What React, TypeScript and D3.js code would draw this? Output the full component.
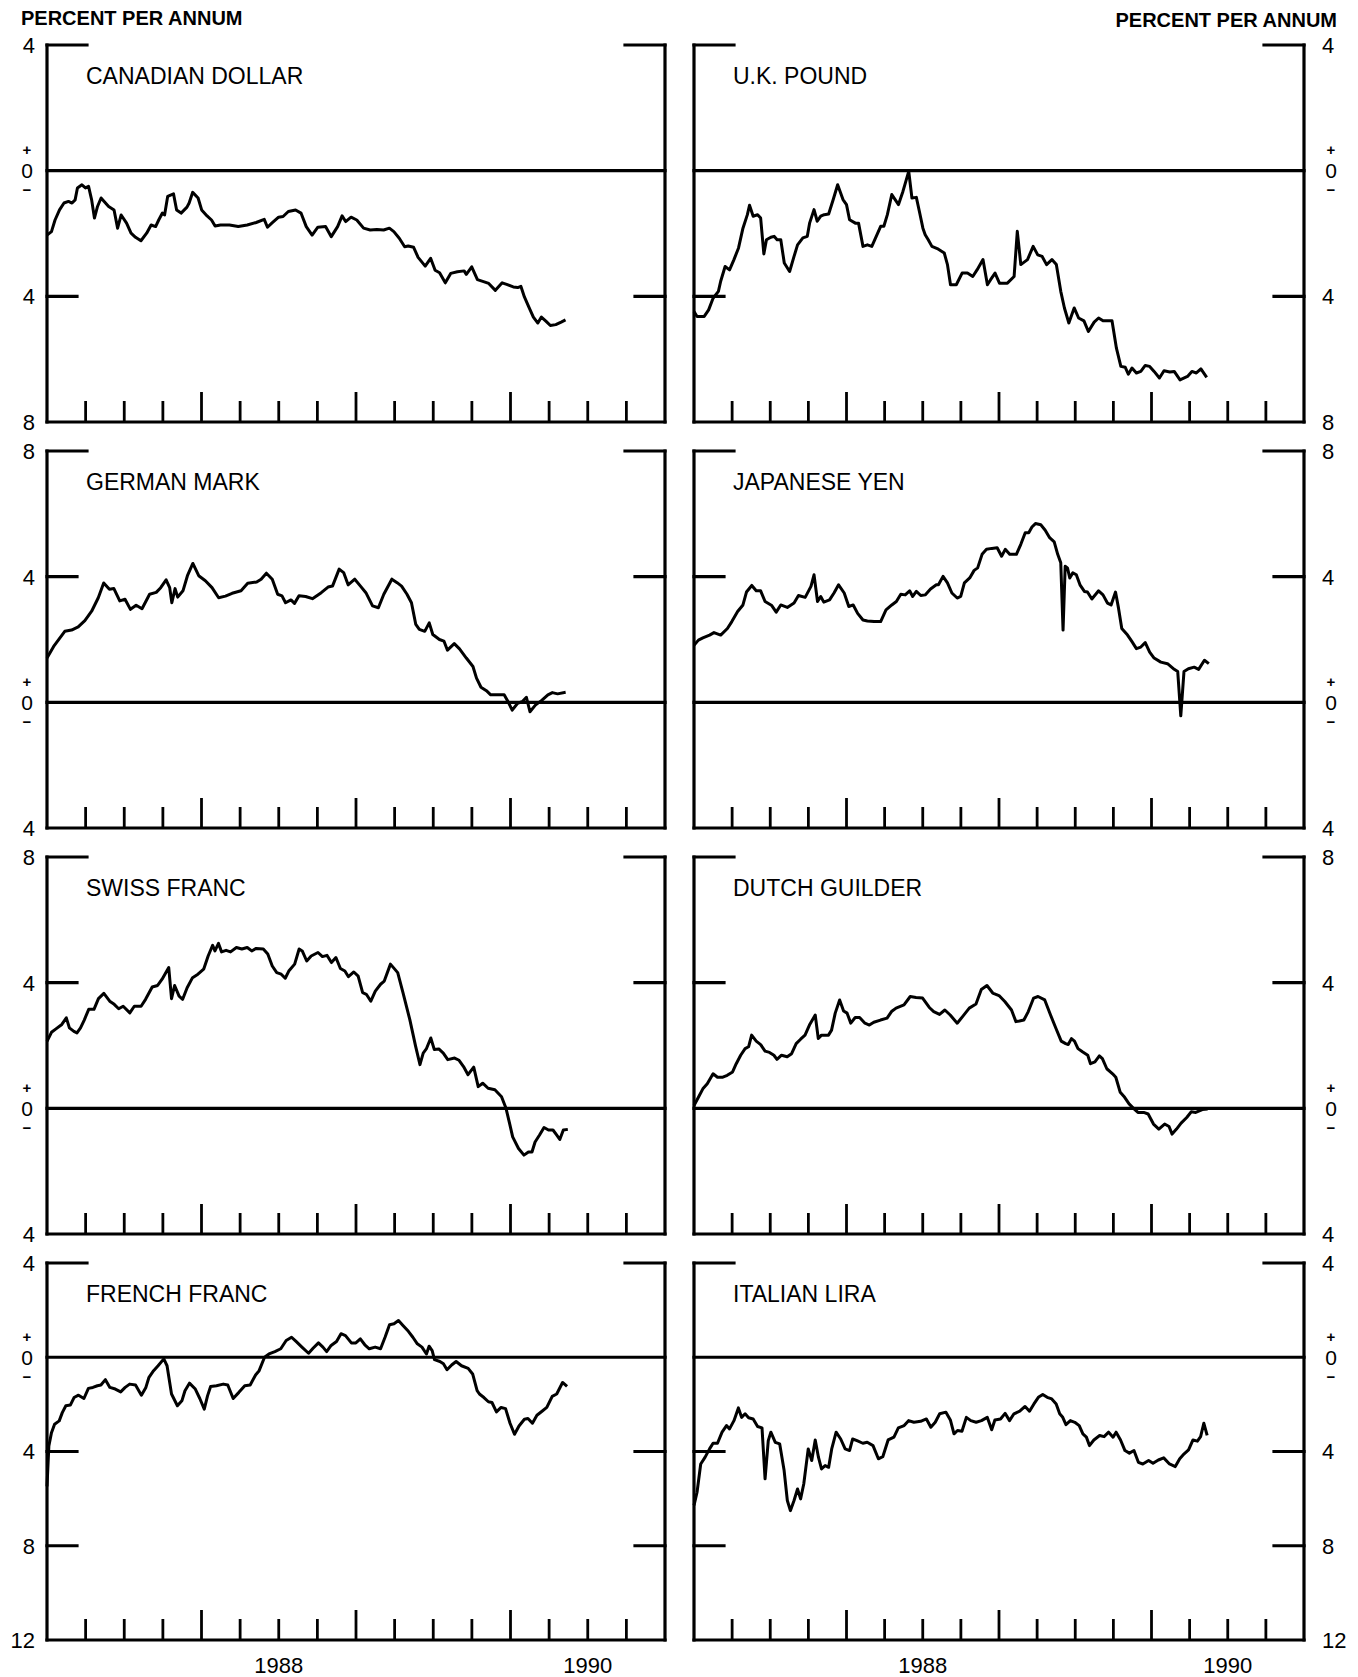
import * as d3 from "d3";

// decimal year, percent per annum
const canadianDollar: [number, number][] = [
  [1987.0, -2.05], [1987.029, -1.94], [1987.052, -1.57], [1987.081, -1.25], [1987.11, -1.03], [1987.139, -0.98],
  [1987.162, -1.03], [1987.182, -0.93], [1987.197, -0.55], [1987.226, -0.45], [1987.249, -0.55], [1987.269, -0.5],
  [1987.289, -0.93], [1987.307, -1.51], [1987.327, -1.14], [1987.35, -0.87], [1987.37, -0.98], [1987.399, -1.14],
  [1987.434, -1.25], [1987.457, -1.83], [1987.48, -1.41], [1987.515, -1.67], [1987.544, -1.99], [1987.573, -2.12],
  [1987.608, -2.23], [1987.645, -1.99], [1987.674, -1.73], [1987.703, -1.78], [1987.723, -1.57], [1987.747, -1.35],
  [1987.761, -1.41], [1987.781, -0.82], [1987.819, -0.74], [1987.839, -1.25], [1987.868, -1.35], [1987.906, -1.16],
  [1987.92, -1.03], [1987.943, -0.69], [1987.978, -0.87], [1988.001, -1.25], [1988.036, -1.44], [1988.065, -1.57],
  [1988.088, -1.76], [1988.123, -1.73], [1988.181, -1.73], [1988.238, -1.78], [1988.296, -1.73], [1988.354, -1.65],
  [1988.406, -1.55], [1988.427, -1.8], [1988.455, -1.67], [1988.499, -1.48], [1988.528, -1.46], [1988.562, -1.3],
  [1988.609, -1.25], [1988.644, -1.35], [1988.678, -1.78], [1988.716, -2.05], [1988.753, -1.8], [1988.803, -1.78],
  [1988.84, -2.1], [1988.881, -1.78], [1988.91, -1.44], [1988.933, -1.62], [1988.968, -1.48], [1989.005, -1.57],
  [1989.049, -1.83], [1989.092, -1.89], [1989.135, -1.87], [1989.179, -1.89], [1989.216, -1.83], [1989.245, -1.94],
  [1989.28, -2.15], [1989.315, -2.42], [1989.338, -2.4], [1989.373, -2.44], [1989.402, -2.76], [1989.448, -3.04],
  [1989.483, -2.79], [1989.512, -3.17], [1989.541, -3.25], [1989.578, -3.57], [1989.613, -3.27], [1989.656, -3.22],
  [1989.7, -3.19], [1989.714, -3.3], [1989.749, -3.06], [1989.786, -3.47], [1989.83, -3.54], [1989.859, -3.59],
  [1989.902, -3.81], [1989.946, -3.57], [1989.975, -3.62], [1990.018, -3.7], [1990.047, -3.72], [1990.067, -3.68],
  [1990.09, -4.02], [1990.119, -4.34], [1990.148, -4.66], [1990.177, -4.85], [1990.2, -4.66], [1990.229, -4.79],
  [1990.258, -4.93], [1990.293, -4.9], [1990.328, -4.82], [1990.356, -4.75],
];

const ukPound: [number, number][] = [
  [1987.0, -4.48], [1987.02, -4.64], [1987.067, -4.64], [1987.096, -4.43], [1987.125, -4.06], [1987.16, -3.84],
  [1987.175, -3.52], [1987.204, -3.05], [1987.233, -3.16], [1987.262, -2.83], [1987.292, -2.46], [1987.321, -1.83],
  [1987.35, -1.4], [1987.364, -1.1], [1987.388, -1.45], [1987.417, -1.4], [1987.437, -1.51], [1987.458, -2.65],
  [1987.475, -2.2], [1987.504, -2.12], [1987.525, -2.09], [1987.545, -2.2], [1987.569, -2.2], [1987.592, -2.94],
  [1987.627, -3.21], [1987.656, -2.73], [1987.679, -2.36], [1987.714, -2.14], [1987.743, -2.09], [1987.758, -1.67],
  [1987.787, -1.24], [1987.808, -1.61], [1987.831, -1.45], [1987.854, -1.4], [1987.883, -1.38], [1987.913, -0.92],
  [1987.942, -0.45], [1987.977, -0.92], [1988.0, -1.08], [1988.02, -1.56], [1988.058, -1.67], [1988.079, -1.67],
  [1988.108, -2.41], [1988.137, -2.36], [1988.166, -2.41], [1988.195, -2.09], [1988.224, -1.77], [1988.245, -1.77],
  [1988.268, -1.4], [1988.297, -0.76], [1988.341, -1.08], [1988.37, -0.66], [1988.408, -0.02], [1988.429, -0.87],
  [1988.458, -0.85], [1988.478, -1.3], [1988.501, -1.83], [1988.516, -2.04], [1988.536, -2.2], [1988.56, -2.41],
  [1988.595, -2.48], [1988.641, -2.62], [1988.662, -2.99], [1988.682, -3.63], [1988.72, -3.63], [1988.758, -3.26],
  [1988.793, -3.26], [1988.828, -3.37], [1988.857, -3.15], [1988.895, -2.83], [1988.924, -3.63], [1988.945, -3.47],
  [1988.974, -3.26], [1989.003, -3.58], [1989.055, -3.58], [1989.099, -3.37], [1989.12, -1.93], [1989.143, -2.99],
  [1989.187, -2.83], [1989.224, -2.41], [1989.254, -2.68], [1989.283, -2.73], [1989.312, -2.99], [1989.347, -2.83],
  [1989.376, -2.99], [1989.405, -3.84], [1989.429, -4.37], [1989.458, -4.85], [1989.493, -4.37], [1989.522, -4.69],
  [1989.557, -4.78], [1989.586, -5.12], [1989.624, -4.82], [1989.653, -4.69], [1989.682, -4.78], [1989.741, -4.78],
  [1989.77, -5.65], [1989.799, -6.23], [1989.828, -6.26], [1989.848, -6.48], [1989.872, -6.28], [1989.901, -6.44],
  [1989.93, -6.39], [1989.959, -6.2], [1989.988, -6.23], [1990.017, -6.39], [1990.052, -6.6], [1990.082, -6.37],
  [1990.12, -6.41], [1990.149, -6.39], [1990.187, -6.66], [1990.236, -6.55], [1990.265, -6.39], [1990.294, -6.44],
  [1990.324, -6.31], [1990.362, -6.58],
];

const germanMark: [number, number][] = [
  [1987.0, 1.41], [1987.043, 1.78], [1987.115, 2.26], [1987.159, 2.3], [1987.202, 2.4], [1987.245, 2.6],
  [1987.289, 2.9], [1987.332, 3.33], [1987.367, 3.8], [1987.404, 3.6], [1987.433, 3.62], [1987.471, 3.23],
  [1987.505, 3.28], [1987.54, 2.96], [1987.577, 3.09], [1987.615, 2.98], [1987.664, 3.44], [1987.707, 3.5],
  [1987.736, 3.65], [1987.771, 3.9], [1987.794, 3.65], [1987.808, 3.17], [1987.829, 3.62], [1987.846, 3.35],
  [1987.88, 3.55], [1987.909, 4.03], [1987.944, 4.42], [1987.982, 4.03], [1988.025, 3.87], [1988.068, 3.65],
  [1988.111, 3.33], [1988.155, 3.38], [1988.198, 3.47], [1988.256, 3.55], [1988.299, 3.79], [1988.357, 3.83],
  [1988.386, 3.92], [1988.42, 4.11], [1988.458, 3.92], [1988.493, 3.44], [1988.521, 3.39], [1988.544, 3.17],
  [1988.579, 3.26], [1988.602, 3.15], [1988.631, 3.39], [1988.674, 3.37], [1988.718, 3.3], [1988.775, 3.49],
  [1988.819, 3.67], [1988.848, 3.7], [1988.891, 4.24], [1988.92, 4.13], [1988.949, 3.74], [1988.992, 3.92],
  [1989.029, 3.7], [1989.064, 3.49], [1989.107, 3.07], [1989.145, 3.01], [1989.18, 3.44], [1989.232, 3.92],
  [1989.266, 3.81], [1989.295, 3.7], [1989.33, 3.44], [1989.359, 3.17], [1989.387, 2.48], [1989.41, 2.32],
  [1989.445, 2.26], [1989.474, 2.53], [1989.497, 2.16], [1989.54, 2.0], [1989.569, 1.95], [1989.592, 1.66],
  [1989.636, 1.87], [1989.67, 1.7], [1989.714, 1.41], [1989.757, 1.14], [1989.78, 0.77], [1989.809, 0.48],
  [1989.844, 0.37], [1989.872, 0.24], [1989.916, 0.24], [1989.959, 0.24], [1989.979, 0.07], [1990.011, -0.25],
  [1990.046, -0.03], [1990.075, 0.02], [1990.103, 0.16], [1990.126, -0.3], [1990.161, -0.09], [1990.204, 0.07],
  [1990.242, 0.24], [1990.271, 0.31], [1990.305, 0.27], [1990.357, 0.32],
];

const japaneseYen: [number, number][] = [
  [1987.0, 1.82], [1987.029, 1.98], [1987.058, 2.05], [1987.102, 2.14], [1987.131, 2.22], [1987.175, 2.14],
  [1987.219, 2.35], [1987.248, 2.57], [1987.286, 2.89], [1987.321, 3.1], [1987.344, 3.51], [1987.379, 3.72],
  [1987.408, 3.55], [1987.437, 3.55], [1987.466, 3.21], [1987.51, 3.08], [1987.539, 2.87], [1987.569, 3.1],
  [1987.612, 3.02], [1987.656, 3.16], [1987.685, 3.4], [1987.729, 3.34], [1987.767, 3.69], [1987.787, 4.06],
  [1987.81, 3.21], [1987.831, 3.37], [1987.851, 3.19], [1987.889, 3.26], [1987.918, 3.48], [1987.948, 3.74],
  [1987.985, 3.48], [1988.015, 3.05], [1988.044, 3.1], [1988.073, 2.83], [1988.108, 2.62], [1988.137, 2.59],
  [1988.181, 2.57], [1988.224, 2.57], [1988.259, 2.94], [1988.297, 3.1], [1988.327, 3.21], [1988.356, 3.44],
  [1988.385, 3.42], [1988.414, 3.55], [1988.434, 3.37], [1988.458, 3.53], [1988.487, 3.4], [1988.516, 3.42],
  [1988.551, 3.61], [1988.589, 3.74], [1988.603, 3.74], [1988.633, 4.01], [1988.662, 3.8], [1988.691, 3.48],
  [1988.726, 3.32], [1988.749, 3.37], [1988.773, 3.8], [1988.808, 3.96], [1988.837, 4.2], [1988.86, 4.28],
  [1988.889, 4.71], [1988.918, 4.87], [1988.953, 4.9], [1988.988, 4.92], [1989.017, 4.65], [1989.041, 4.87],
  [1989.07, 4.71], [1989.114, 4.71], [1989.143, 5.03], [1989.172, 5.4], [1989.195, 5.4], [1989.216, 5.58],
  [1989.239, 5.69], [1989.274, 5.65], [1989.303, 5.48], [1989.332, 5.24], [1989.362, 5.11], [1989.385, 4.71],
  [1989.405, 4.44], [1989.42, 2.3], [1989.434, 4.33], [1989.449, 4.28], [1989.464, 3.96], [1989.484, 4.12],
  [1989.507, 4.06], [1989.531, 3.74], [1989.56, 3.53], [1989.58, 3.51], [1989.609, 3.29], [1989.653, 3.55],
  [1989.682, 3.42], [1989.711, 3.16], [1989.735, 3.1], [1989.764, 3.51], [1989.784, 2.99], [1989.805, 2.35],
  [1989.843, 2.14], [1989.872, 1.93], [1989.901, 1.71], [1989.93, 1.76], [1989.959, 1.9], [1989.988, 1.6],
  [1990.017, 1.41], [1990.061, 1.28], [1990.105, 1.23], [1990.149, 1.05], [1990.172, 0.98], [1990.192, -0.43],
  [1990.213, 0.98], [1990.242, 1.07], [1990.28, 1.12], [1990.309, 1.05], [1990.347, 1.34], [1990.376, 1.23],
];

const swissFranc: [number, number][] = [
  [1987.0, 2.13], [1987.029, 2.42], [1987.058, 2.53], [1987.096, 2.67], [1987.125, 2.88], [1987.145, 2.56],
  [1987.174, 2.45], [1987.194, 2.4], [1987.217, 2.56], [1987.241, 2.81], [1987.27, 3.15], [1987.304, 3.15],
  [1987.333, 3.49], [1987.368, 3.66], [1987.406, 3.41], [1987.435, 3.31], [1987.464, 3.17], [1987.493, 3.25],
  [1987.536, 3.04], [1987.565, 3.25], [1987.609, 3.25], [1987.638, 3.47], [1987.681, 3.86], [1987.716, 3.91],
  [1987.745, 4.11], [1987.788, 4.48], [1987.806, 3.49], [1987.826, 3.91], [1987.855, 3.57], [1987.878, 3.47],
  [1987.907, 3.84], [1987.942, 4.16], [1987.977, 4.27], [1988.014, 4.43], [1988.043, 4.85], [1988.072, 5.19],
  [1988.087, 5.01], [1988.11, 5.25], [1988.13, 4.98], [1988.159, 5.03], [1988.188, 4.98], [1988.226, 5.12],
  [1988.261, 5.07], [1988.296, 5.12], [1988.325, 5.01], [1988.354, 5.09], [1988.4, 5.07], [1988.429, 4.91],
  [1988.458, 4.53], [1988.487, 4.32], [1988.516, 4.27], [1988.542, 4.14], [1988.565, 4.37], [1988.603, 4.59],
  [1988.632, 5.07], [1988.652, 5.01], [1988.681, 4.69], [1988.71, 4.85], [1988.754, 4.96], [1988.783, 4.83],
  [1988.812, 4.87], [1988.841, 4.64], [1988.87, 4.8], [1988.899, 4.45], [1988.928, 4.37], [1988.951, 4.19],
  [1988.986, 4.34], [1989.014, 4.21], [1989.043, 3.68], [1989.067, 3.63], [1989.096, 3.41], [1989.125, 3.73],
  [1989.159, 3.95], [1989.183, 4.05], [1989.223, 4.59], [1989.27, 4.32], [1989.304, 3.68], [1989.348, 2.83],
  [1989.386, 1.97], [1989.414, 1.39], [1989.435, 1.76], [1989.455, 1.89], [1989.484, 2.24], [1989.507, 1.87],
  [1989.536, 1.89], [1989.565, 1.76], [1989.594, 1.55], [1989.638, 1.6], [1989.667, 1.53], [1989.696, 1.33],
  [1989.725, 1.07], [1989.762, 1.31], [1989.791, 0.69], [1989.82, 0.8], [1989.855, 0.64], [1989.899, 0.59],
  [1989.942, 0.37], [1989.971, 0.0], [1989.994, -0.48], [1990.014, -0.91], [1990.052, -1.28], [1990.087, -1.49],
  [1990.116, -1.39], [1990.139, -1.39], [1990.159, -1.07], [1990.188, -0.85], [1990.217, -0.61], [1990.246, -0.69],
  [1990.275, -0.69], [1990.296, -0.83], [1990.319, -0.99], [1990.342, -0.69], [1990.371, -0.67],
];

const dutchGuilder: [number, number][] = [
  [1987.0, 0.09], [1987.029, 0.35], [1987.058, 0.62], [1987.087, 0.78], [1987.125, 1.1], [1987.154, 0.99],
  [1987.189, 0.99], [1987.218, 1.05], [1987.253, 1.16], [1987.277, 1.42], [1987.306, 1.69], [1987.335, 1.9],
  [1987.358, 1.96], [1987.378, 2.33], [1987.408, 2.14], [1987.437, 2.03], [1987.466, 1.82], [1987.495, 1.78],
  [1987.524, 1.69], [1987.544, 1.56], [1987.574, 1.69], [1987.611, 1.64], [1987.64, 1.74], [1987.67, 2.06],
  [1987.699, 2.2], [1987.728, 2.33], [1987.757, 2.65], [1987.795, 2.97], [1987.815, 2.22], [1987.836, 2.33],
  [1987.882, 2.33], [1987.902, 2.49], [1987.926, 3.03], [1987.955, 3.45], [1987.981, 3.1], [1988.004, 3.03],
  [1988.028, 2.71], [1988.057, 2.89], [1988.086, 2.89], [1988.121, 2.71], [1988.15, 2.65], [1988.179, 2.74],
  [1988.223, 2.81], [1988.266, 2.87], [1988.295, 3.08], [1988.325, 3.19], [1988.377, 3.29], [1988.418, 3.56],
  [1988.456, 3.53], [1988.499, 3.51], [1988.543, 3.21], [1988.572, 3.08], [1988.61, 2.99], [1988.645, 3.13],
  [1988.68, 2.97], [1988.726, 2.71], [1988.761, 2.92], [1988.805, 3.19], [1988.849, 3.32], [1988.884, 3.78],
  [1988.921, 3.91], [1988.959, 3.67], [1989.0, 3.59], [1989.038, 3.4], [1989.082, 3.13], [1989.111, 2.76],
  [1989.134, 2.78], [1989.163, 2.81], [1989.192, 3.08], [1989.227, 3.51], [1989.256, 3.56], [1989.3, 3.45],
  [1989.338, 2.97], [1989.373, 2.55], [1989.408, 2.14], [1989.437, 2.06], [1989.454, 2.03], [1989.475, 2.22],
  [1989.495, 2.14], [1989.518, 1.9], [1989.547, 1.8], [1989.582, 1.69], [1989.6, 1.42], [1989.629, 1.48],
  [1989.658, 1.67], [1989.678, 1.58], [1989.707, 1.26], [1989.745, 1.1], [1989.766, 0.99], [1989.795, 0.51],
  [1989.824, 0.35], [1989.853, 0.14], [1989.882, 0.0], [1989.911, -0.13], [1989.949, -0.13], [1989.978, -0.18],
  [1990.013, -0.5], [1990.048, -0.66], [1990.086, -0.5], [1990.115, -0.58], [1990.135, -0.82], [1990.164, -0.66],
  [1990.194, -0.47], [1990.231, -0.29], [1990.261, -0.11], [1990.29, -0.13], [1990.333, -0.04], [1990.368, -0.02],
];

const frenchFranc: [number, number][] = [
  [1987.0, -5.48], [1987.012, -3.77], [1987.029, -3.2], [1987.049, -2.84], [1987.079, -2.7], [1987.099, -2.35],
  [1987.122, -2.06], [1987.151, -2.03], [1987.175, -1.71], [1987.204, -1.61], [1987.239, -1.75], [1987.268, -1.32],
  [1987.297, -1.28], [1987.326, -1.21], [1987.349, -1.18], [1987.378, -0.95], [1987.407, -1.28], [1987.442, -1.35],
  [1987.477, -1.47], [1987.506, -1.28], [1987.535, -1.14], [1987.573, -1.18], [1987.611, -1.61], [1987.64, -1.28],
  [1987.66, -0.85], [1987.69, -0.57], [1987.719, -0.36], [1987.756, -0.07], [1987.777, -0.36], [1987.806, -1.56],
  [1987.844, -2.06], [1987.873, -1.85], [1987.893, -1.42], [1987.922, -1.1], [1987.96, -1.35], [1987.989, -1.75],
  [1988.018, -2.2], [1988.039, -1.64], [1988.059, -1.24], [1988.097, -1.21], [1988.141, -1.14], [1988.17, -1.18],
  [1988.205, -1.75], [1988.242, -1.49], [1988.28, -1.21], [1988.315, -1.18], [1988.35, -0.75], [1988.373, -0.57],
  [1988.408, 0.0], [1988.437, 0.14], [1988.475, 0.24], [1988.513, 0.36], [1988.548, 0.71], [1988.583, 0.85],
  [1988.612, 0.67], [1988.65, 0.43], [1988.693, 0.17], [1988.722, 0.38], [1988.757, 0.61], [1988.786, 0.43],
  [1988.81, 0.24], [1988.839, 0.5], [1988.874, 0.67], [1988.903, 1.0], [1988.932, 0.92], [1988.97, 0.61],
  [1988.999, 0.61], [1989.028, 0.78], [1989.057, 0.53], [1989.086, 0.36], [1989.124, 0.43], [1989.159, 0.36],
  [1989.188, 0.85], [1989.217, 1.38], [1989.246, 1.42], [1989.275, 1.56], [1989.304, 1.35], [1989.339, 1.1],
  [1989.368, 0.85], [1989.397, 0.57], [1989.427, 0.43], [1989.456, 0.14], [1989.473, 0.47], [1989.493, 0.28],
  [1989.508, -0.1], [1989.543, -0.18], [1989.566, -0.28], [1989.589, -0.53], [1989.619, -0.33], [1989.648, -0.18],
  [1989.683, -0.36], [1989.726, -0.47], [1989.755, -0.71], [1989.784, -1.42], [1989.799, -1.56], [1989.828, -1.71],
  [1989.857, -1.89], [1989.88, -1.92], [1989.909, -2.32], [1989.939, -2.13], [1989.968, -2.18], [1989.997, -2.8],
  [1990.026, -3.27], [1990.055, -2.92], [1990.09, -2.63], [1990.113, -2.6], [1990.142, -2.8], [1990.171, -2.46],
  [1990.206, -2.28], [1990.235, -2.13], [1990.27, -1.66], [1990.299, -1.56], [1990.337, -1.07], [1990.366, -1.24],
];

const italianLira: [number, number][] = [
  [1987.0, -6.29], [1987.02, -5.73], [1987.044, -4.53], [1987.073, -4.24], [1987.102, -3.89], [1987.125, -3.65],
  [1987.154, -3.65], [1987.184, -3.18], [1987.213, -2.9], [1987.233, -3.04], [1987.262, -2.69], [1987.291, -2.15],
  [1987.312, -2.55], [1987.335, -2.4], [1987.358, -2.57], [1987.388, -2.62], [1987.417, -2.94], [1987.446, -3.0],
  [1987.466, -5.16], [1987.487, -3.54], [1987.504, -3.18], [1987.533, -3.61], [1987.562, -3.68], [1987.591, -4.81],
  [1987.612, -6.08], [1987.632, -6.51], [1987.656, -6.08], [1987.679, -5.59], [1987.699, -6.01], [1987.72, -5.37],
  [1987.749, -3.89], [1987.772, -4.38], [1987.795, -3.51], [1987.816, -4.24], [1987.836, -4.74], [1987.86, -4.6],
  [1987.883, -4.67], [1987.903, -3.89], [1987.932, -3.18], [1987.962, -3.47], [1987.991, -3.89], [1988.02, -3.96],
  [1988.04, -3.47], [1988.069, -3.54], [1988.107, -3.65], [1988.136, -3.61], [1988.174, -3.75], [1988.209, -4.31],
  [1988.238, -4.22], [1988.273, -3.51], [1988.311, -3.39], [1988.34, -3.0], [1988.378, -2.9], [1988.407, -2.69],
  [1988.442, -2.76], [1988.486, -2.72], [1988.524, -2.62], [1988.553, -2.97], [1988.582, -2.76], [1988.611, -2.4],
  [1988.652, -2.33], [1988.681, -2.66], [1988.705, -3.25], [1988.728, -3.11], [1988.757, -3.14], [1988.786, -2.55],
  [1988.815, -2.69], [1988.85, -2.76], [1988.885, -2.69], [1988.923, -2.55], [1988.952, -3.08], [1988.973, -2.66],
  [1989.01, -2.62], [1989.04, -2.38], [1989.069, -2.69], [1989.098, -2.4], [1989.136, -2.29], [1989.171, -2.09],
  [1989.2, -2.29], [1989.229, -1.98], [1989.258, -1.7], [1989.287, -1.58], [1989.316, -1.7], [1989.346, -1.77],
  [1989.375, -1.98], [1989.398, -2.4], [1989.418, -2.55], [1989.439, -2.86], [1989.468, -2.69], [1989.497, -2.76],
  [1989.526, -2.9], [1989.55, -3.25], [1989.573, -3.39], [1989.593, -3.75], [1989.622, -3.51], [1989.66, -3.32],
  [1989.689, -3.37], [1989.719, -3.18], [1989.748, -3.39], [1989.768, -3.18], [1989.797, -3.51], [1989.826, -3.96],
  [1989.855, -4.07], [1989.885, -3.96], [1989.914, -4.46], [1989.943, -4.53], [1989.981, -4.38], [1990.01, -4.5],
  [1990.045, -4.36], [1990.08, -4.27], [1990.118, -4.53], [1990.156, -4.64], [1990.185, -4.31], [1990.214, -4.1],
  [1990.243, -3.93], [1990.272, -3.51], [1990.301, -3.56], [1990.322, -3.37], [1990.343, -2.8], [1990.365, -3.32],
];

const rowDomains: [number, number][] = [[-8, 4], [-4, 8], [-4, 8], [-12, 4]];
const rowTicks: number[][] = [[4, 0, -4, -8], [8, 4, 0, -4], [8, 4, 0, -4], [4, 0, -4, -8, -12]];
const quarterTicks = d3.range(1, 16);
const yearLabels = [{ label: "1988", at: 1988.5 }, { label: "1990", at: 1990.5 }];

const panels = [
  { title: "CANADIAN DOLLAR", data: canadianDollar, row: 0, col: 0 },
  { title: "U.K. POUND", data: ukPound, row: 0, col: 1 },
  { title: "GERMAN MARK", data: germanMark, row: 1, col: 0 },
  { title: "JAPANESE YEN", data: japaneseYen, row: 1, col: 1 },
  { title: "SWISS FRANC", data: swissFranc, row: 2, col: 0 },
  { title: "DUTCH GUILDER", data: dutchGuilder, row: 2, col: 1 },
  { title: "FRENCH FRANC", data: frenchFranc, row: 3, col: 0 },
  { title: "ITALIAN LIRA", data: italianLira, row: 3, col: 1 },
];

const COL_X: [number, number][] = [[47, 665], [694, 1304]];
const ROW_TOP = [45, 451, 857, 1263];
const ROW_H = 377;
const FONT = "'Liberation Sans', Arial, Helvetica, sans-serif";

function Panel({ title, data, row, col }: { title: string; data: [number, number][]; row: number; col: number }) {
  const [x0, x1] = COL_X[col];
  const top = ROW_TOP[row];
  const bottom = top + ROW_H;
  const x = d3.scaleLinear().domain([1987, 1991]).range([x0, x1]);
  const y = d3.scaleLinear().domain(rowDomains[row]).range([bottom, top]);
  const line = d3.line<[number, number]>().x((d) => x(d[0])).y((d) => y(d[1]));
  const ticks = rowTicks[row];
  const [lo, hi] = rowDomains[row];
  const labelX = col === 0 ? 35 : 1322;
  const signX = col === 0 ? 27 : 1331;
  const anchor = col === 0 ? "end" : "start";

  return (
    <g>
      {/* frame */}
      <g stroke="#000" strokeWidth={3.2} fill="none" strokeLinecap="square">
        <line x1={x0} x2={x0} y1={top} y2={bottom} />
        <line x1={x1} x2={x1} y1={top} y2={bottom} />
        <line x1={x0} x2={x1} y1={bottom} y2={bottom} />
        <line x1={x0} x2={x0 + 40} y1={top} y2={top} />
        <line x1={x1 - 40} x2={x1} y1={top} y2={top} />
        <line x1={x0} x2={x1} y1={y(0)} y2={y(0)} />
        {ticks
          .filter((v) => v !== 0 && v !== hi && v !== lo)
          .map((v) => (
            <g key={v}>
              <line x1={x0} x2={x0 + 30} y1={y(v)} y2={y(v)} />
              <line x1={x1 - 30} x2={x1} y1={y(v)} y2={y(v)} />
            </g>
          ))}
      </g>
      {/* quarter ticks */}
      <g stroke="#000" strokeWidth={2.8}>
        {quarterTicks.map((k) => (
          <line key={k} x1={x(1987 + k / 4)} x2={x(1987 + k / 4)} y1={bottom} y2={bottom - (k % 4 === 0 ? 30 : 21)} />
        ))}
      </g>
      {/* y labels */}
      <g fontFamily={FONT} fontSize={22} fill="#000">
        {ticks.map((v) =>
          v === 0 ? (
            <g key={v} textAnchor="middle">
              <text x={signX} y={y(0) - 21} dy="0.35em" fontSize={15} fontWeight="bold">+</text>
              <text x={signX} y={y(0)} dy="0.36em" fontSize={21}>0</text>
              <text x={signX} y={y(0) + 19} dy="0.35em" fontSize={15} fontWeight="bold">−</text>
            </g>
          ) : (
            <text key={v} x={labelX} y={y(v)} dy="0.36em" textAnchor={anchor}>
              {Math.abs(v)}
            </text>
          )
        )}
      </g>
      <text x={x0 + 39} y={top + 39} fontFamily={FONT} fontSize={23} fill="#000">
        {title}
      </text>
      <path d={line(data) ?? ""} fill="none" stroke="#000" strokeWidth={3} strokeLinejoin="round" />
      {row === 3 &&
        yearLabels.map((yl) => (
          <text key={yl.label} x={x(yl.at)} y={1673} textAnchor="middle" fontFamily={FONT} fontSize={22} fill="#000">
            {yl.label}
          </text>
        ))}
    </g>
  );
}

export default function App() {
  return (
    <div style={{ position: "absolute", left: 0, top: 0 }}>
      <svg width={1358} height={1677} style={{ display: "block", background: "#fff" }}>
        <rect width={1358} height={1677} fill="#fff" />
        <text x={21} y={25} fontFamily={FONT} fontSize={20} fontWeight="bold" fill="#000">
          PERCENT PER ANNUM
        </text>
        <text x={1337} y={27} fontFamily={FONT} fontSize={20} fontWeight="bold" textAnchor="end" fill="#000">
          PERCENT PER ANNUM
        </text>
        {panels.map((p) => (
          <Panel key={p.title} {...p} />
        ))}
      </svg>
    </div>
  );
}
